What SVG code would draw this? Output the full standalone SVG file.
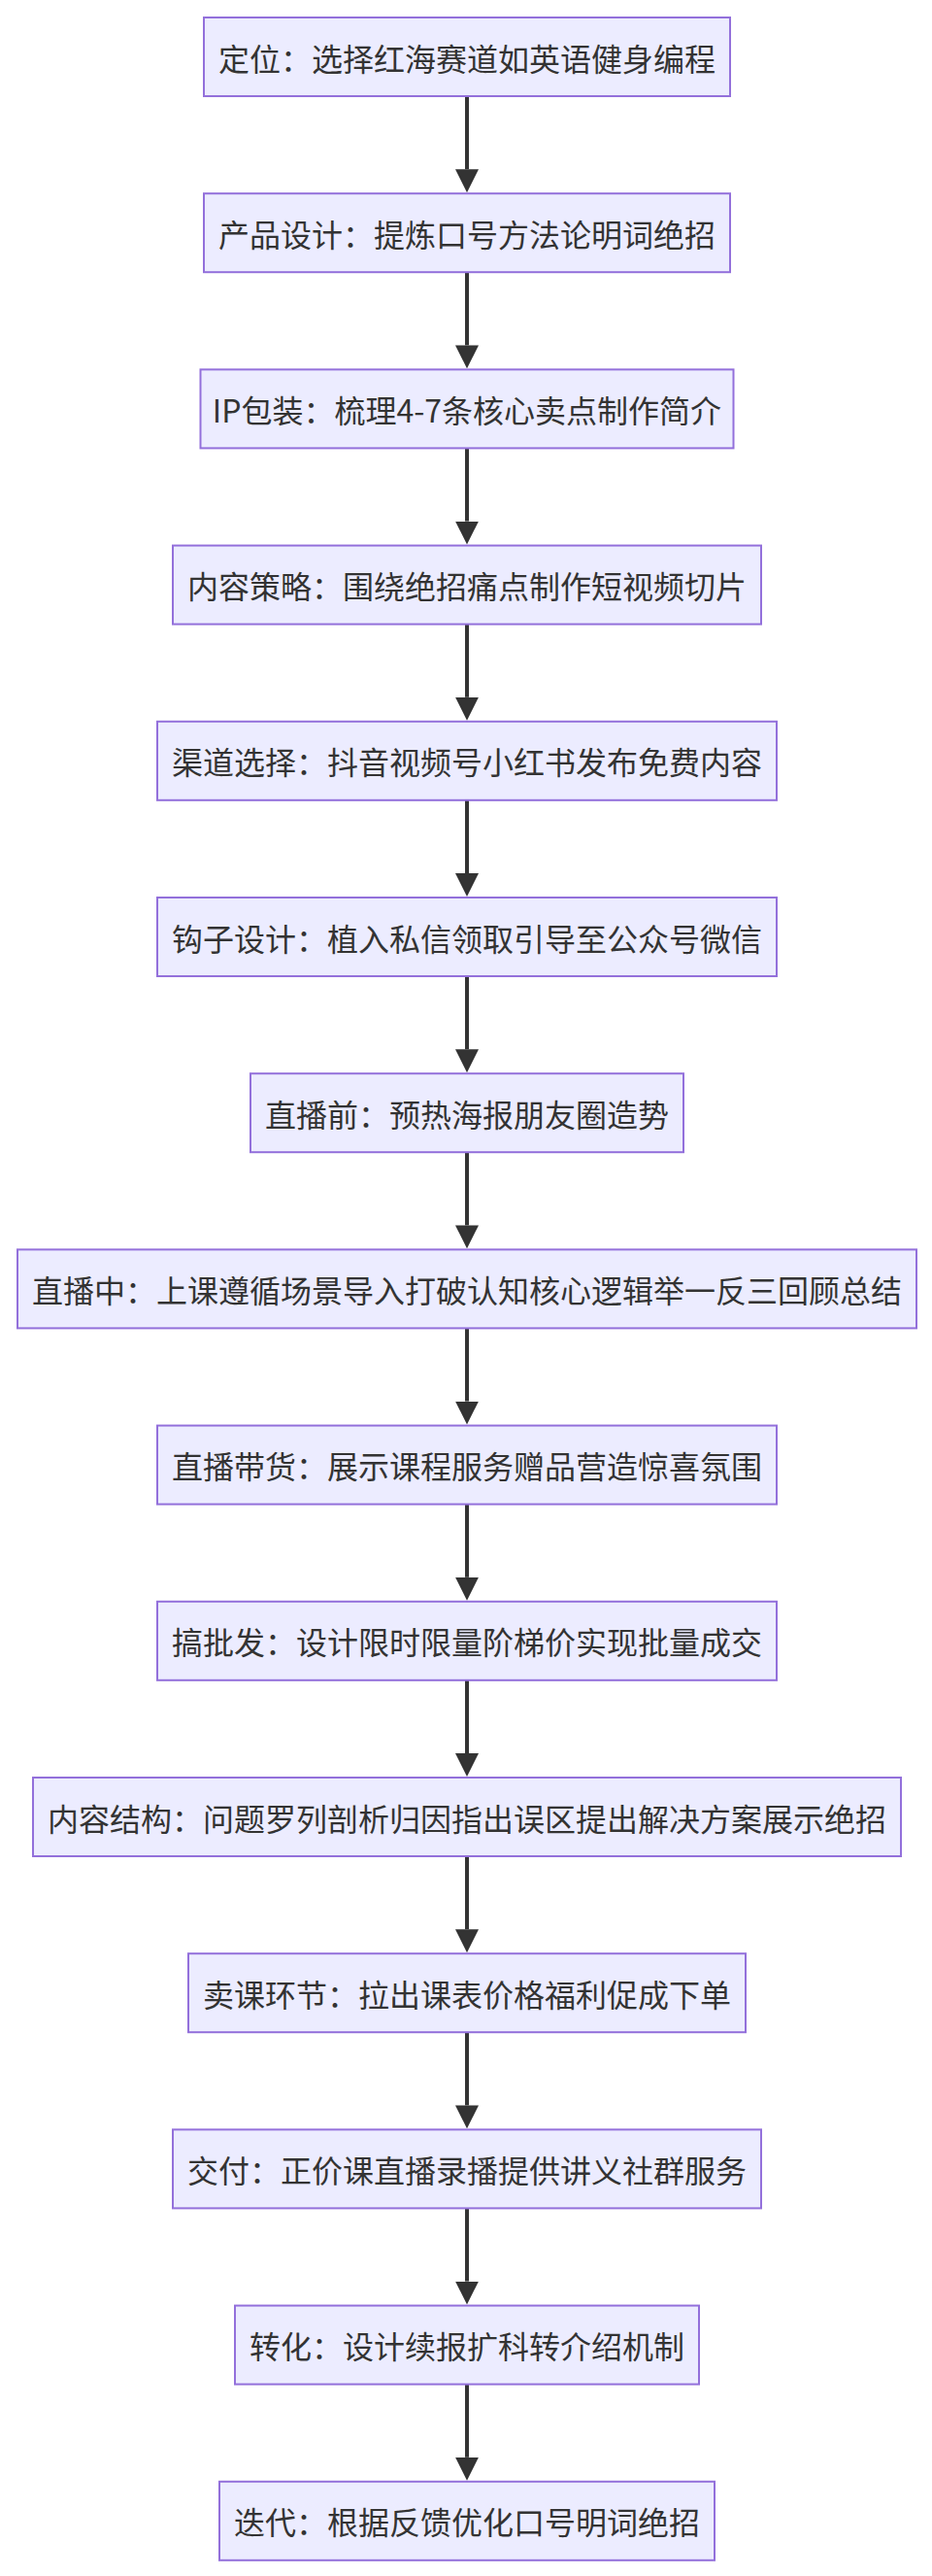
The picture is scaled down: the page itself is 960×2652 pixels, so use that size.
<svg xmlns="http://www.w3.org/2000/svg" width="960" height="2652" viewBox="0 0 960 2652">
<style>
.node rect{fill:#ECECFF;stroke:#9370DB;stroke-width:2}
.node text{font-family:"Noto Sans CJK SC","Liberation Sans",sans-serif;font-size:32px;fill:#333333;text-anchor:middle;dominant-baseline:central}
.edge{stroke:#333333;stroke-width:4;fill:none}
</style>
<defs>
<marker id="arrow" viewBox="0 0 12 12" markerWidth="24" markerHeight="24" markerUnits="userSpaceOnUse" refX="0" refY="6" orient="auto">
<path d="M0,0 L12,6 L0,12 z" fill="#333333"/>
</marker>
</defs>
<rect width="960" height="2652" fill="#FFFFFF"/>
<g id="connectors">
<path class="edge" d="M481,99 L481,174.2" marker-end="url(#arrow)"/>
<path class="edge" d="M481,280.2 L481,355.4" marker-end="url(#arrow)"/>
<path class="edge" d="M481,461.4 L481,536.6" marker-end="url(#arrow)"/>
<path class="edge" d="M481,642.6 L481,717.8" marker-end="url(#arrow)"/>
<path class="edge" d="M481,823.8 L481,899" marker-end="url(#arrow)"/>
<path class="edge" d="M481,1005 L481,1080.2" marker-end="url(#arrow)"/>
<path class="edge" d="M481,1186.2 L481,1261.4" marker-end="url(#arrow)"/>
<path class="edge" d="M481,1367.4 L481,1442.6" marker-end="url(#arrow)"/>
<path class="edge" d="M481,1548.6 L481,1623.8" marker-end="url(#arrow)"/>
<path class="edge" d="M481,1729.8 L481,1805" marker-end="url(#arrow)"/>
<path class="edge" d="M481,1911 L481,1986.2" marker-end="url(#arrow)"/>
<path class="edge" d="M481,2092.2 L481,2167.4" marker-end="url(#arrow)"/>
<path class="edge" d="M481,2273.4 L481,2348.6" marker-end="url(#arrow)"/>
<path class="edge" d="M481,2454.6 L481,2529.8" marker-end="url(#arrow)"/>
</g>
<g id="n1" class="node"><rect x="210" y="18" width="542" height="81"/><text x="481" y="58.5">定位：选择红海赛道如英语健身编程</text></g>
<g id="n2" class="node"><rect x="210" y="199.2" width="542" height="81"/><text x="481" y="239.7">产品设计：提炼口号方法论明词绝招</text></g>
<g id="n3" class="node"><rect x="206.5" y="380.4" width="549" height="81"/><text x="481" y="420.9">IP包装：梳理4-7条核心卖点制作简介</text></g>
<g id="n4" class="node"><rect x="178" y="561.6" width="606" height="81"/><text x="481" y="602.1">内容策略：围绕绝招痛点制作短视频切片</text></g>
<g id="n5" class="node"><rect x="162" y="742.8" width="638" height="81"/><text x="481" y="783.3">渠道选择：抖音视频号小红书发布免费内容</text></g>
<g id="n6" class="node"><rect x="162" y="924" width="638" height="81"/><text x="481" y="964.5">钩子设计：植入私信领取引导至公众号微信</text></g>
<g id="n7" class="node"><rect x="258" y="1105.2" width="446" height="81"/><text x="481" y="1145.7">直播前：预热海报朋友圈造势</text></g>
<g id="n8" class="node"><rect x="18" y="1286.4" width="926" height="81"/><text x="481" y="1326.9">直播中：上课遵循场景导入打破认知核心逻辑举一反三回顾总结</text></g>
<g id="n9" class="node"><rect x="162" y="1467.6" width="638" height="81"/><text x="481" y="1508.1">直播带货：展示课程服务赠品营造惊喜氛围</text></g>
<g id="n10" class="node"><rect x="162" y="1648.8" width="638" height="81"/><text x="481" y="1689.3">搞批发：设计限时限量阶梯价实现批量成交</text></g>
<g id="n11" class="node"><rect x="34" y="1830" width="894" height="81"/><text x="481" y="1870.5">内容结构：问题罗列剖析归因指出误区提出解决方案展示绝招</text></g>
<g id="n12" class="node"><rect x="194" y="2011.2" width="574" height="81"/><text x="481" y="2051.7">卖课环节：拉出课表价格福利促成下单</text></g>
<g id="n13" class="node"><rect x="178" y="2192.4" width="606" height="81"/><text x="481" y="2232.9">交付：正价课直播录播提供讲义社群服务</text></g>
<g id="n14" class="node"><rect x="242" y="2373.6" width="478" height="81"/><text x="481" y="2414.1">转化：设计续报扩科转介绍机制</text></g>
<g id="n15" class="node"><rect x="226" y="2554.8" width="510" height="81"/><text x="481" y="2595.3">迭代：根据反馈优化口号明词绝招</text></g>
</svg>
